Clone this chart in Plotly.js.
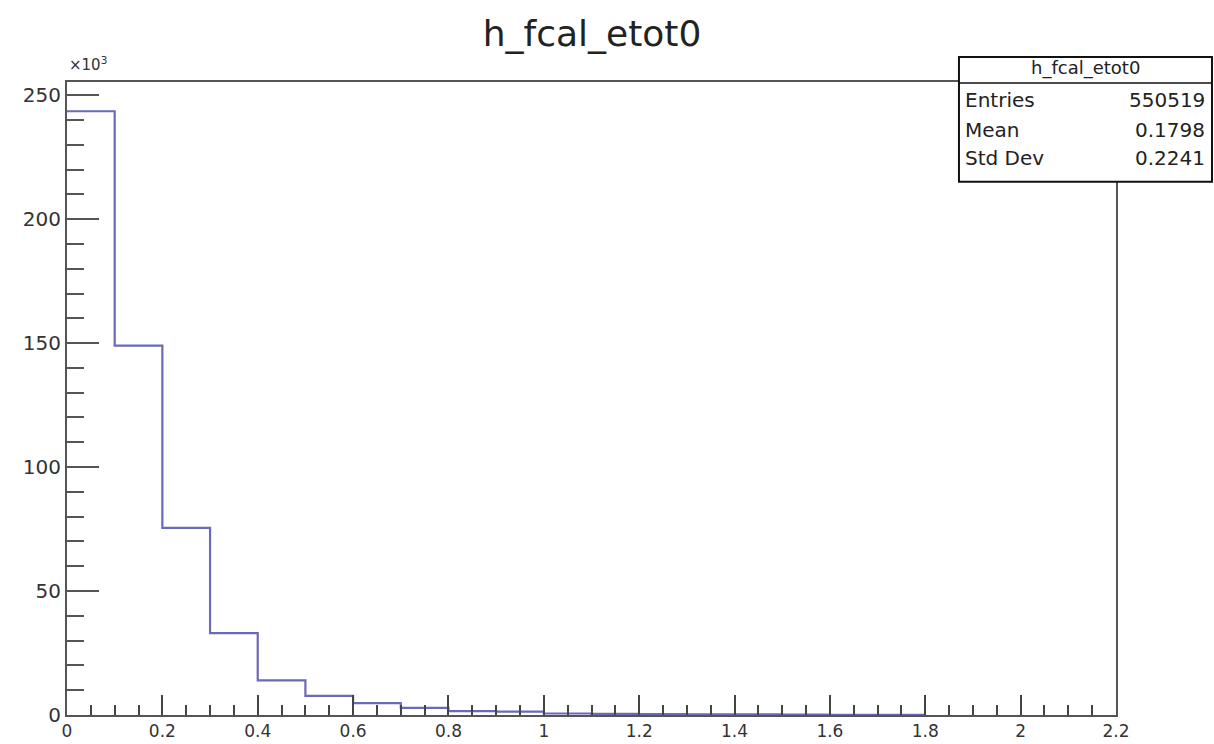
<!DOCTYPE html>
<html>
<head>
<meta charset="utf-8">
<script src="https://cdn.plot.ly/plotly-3.0.1.min.js"></script>
<style>html,body{margin:0;padding:0;background:#fff;}#chart{width:1214px;height:744px;}</style>
</head>
<body>
<div id="chart"></div>
<script>
// Histogram h_fcal_etot0 — bin lower edges and counts (in units of 10^3)
const binLow = [0.0, 0.1, 0.2, 0.3, 0.4, 0.5, 0.6, 0.7, 0.8, 0.9, 1.0, 1.1, 1.2, 1.3, 1.4, 1.5, 1.6, 1.7];
const binWidth = 0.1;
const counts = [243.5, 149, 75.5, 33, 14, 7.7, 4.8, 2.9, 1.6, 1.4, 0.6, 0.45, 0.35, 0.3, 0.22, 0.15, 0.1, 0.08];

const histTitle = "h_fcal_etot0";
const statLabels = ["Entries", "Mean", "Std Dev"];
const statValues = ["550519", "0.1798", "0.2241"];
const xTickVals = [0, 0.2, 0.4, 0.6, 0.8, 1, 1.2, 1.4, 1.6, 1.8, 2, 2.2];
const xTickText = ["0", "0.2", "0.4", "0.6", "0.8", "1", "1.2", "1.4", "1.6", "1.8", "2", "2.2"];
const yTickVals = [0, 50, 100, 150, 200, 250];
const yTickText = ["0", "50", "100", "150", "200", "250"];

// step outline built from the bins
const xs = binLow.concat([binLow[binLow.length - 1] + binWidth]);
const ys = counts.concat([counts[counts.length - 1]]);

const FONT = "DejaVu Sans, Liberation Sans, Arial, sans-serif";

const trace = {
  type: "scatter",
  mode: "lines",
  x: xs,
  y: ys,
  line: {shape: "hv", color: "#6a6ab9", width: 2.2},
  hoverinfo: "skip",
  showlegend: false
};

// stats box geometry (paper coords)
const bx0 = 0.8503, bx1 = 1.0915, by0 = 0.8423, by1 = 1.0394, bdiv = 0.9984;
const rowY = [0.9716, 0.9243, 0.880];

const annotations = [
  {xref: "paper", yref: "paper", x: 0.0, y: 1.01, xanchor: "left", yanchor: "bottom",
   text: "×10<sup>3</sup>", showarrow: false, font: {family: FONT, size: 15, color: "#333"}},
  {xref: "paper", yref: "paper", x: (bx0 + bx1) / 2, y: 1.022, xanchor: "center", yanchor: "middle",
   text: histTitle, showarrow: false, font: {family: FONT, size: 18, color: "#222"}}
];
statLabels.forEach((lab, i) => {
  annotations.push({xref: "paper", yref: "paper", x: bx0 + 0.004, y: rowY[i], xanchor: "left", yanchor: "middle",
    text: lab, showarrow: false, font: {family: FONT, size: 20, color: "#222"}});
  annotations.push({xref: "paper", yref: "paper", x: bx1 - 0.005, y: rowY[i], xanchor: "right", yanchor: "middle",
    text: statValues[i], showarrow: false, font: {family: FONT, size: 20, color: "#222"}});
});

const shapes = [
  {type: "rect", xref: "paper", yref: "paper", x0: bx0, x1: bx1, y0: by0, y1: by1,
   line: {color: "#111", width: 2}, fillcolor: "#fff", layer: "above"},
  {type: "line", xref: "paper", yref: "paper", x0: bx0, x1: bx1, y0: bdiv, y1: bdiv,
   line: {color: "#111", width: 1.5}, layer: "above"}
];

const layout = {
  width: 1214, height: 744,
  margin: {l: 67, r: 98, t: 82, b: 29, pad: 0},
  paper_bgcolor: "#fff", plot_bgcolor: "#fff",
  title: {text: histTitle, x: 592 / 1214, xref: "container", xanchor: "center",
          y: 1 - 33 / 744, yref: "container", yanchor: "middle",
          font: {family: FONT, size: 36, color: "#222"}},
  xaxis: {
    range: [0, 2.2], tickvals: xTickVals, ticktext: xTickText,
    showgrid: false, zeroline: false, showline: true, mirror: true,
    linecolor: "#555", linewidth: 2,
    ticks: "inside", ticklen: 20, tickcolor: "#444", tickwidth: 2,
    minor: {dtick: 0.05, ticks: "inside", ticklen: 10, tickcolor: "#444", tickwidth: 2, showgrid: false},
    tickfont: {family: FONT, size: 17, color: "#333"}
  },
  yaxis: {
    range: [0, 255.3], tickvals: yTickVals, ticktext: yTickText,
    showgrid: false, zeroline: false, showline: true, mirror: true,
    linecolor: "#555", linewidth: 2,
    ticks: "inside", ticklen: 32, tickcolor: "#555", tickwidth: 2,
    minor: {dtick: 10, ticks: "inside", ticklen: 17, tickcolor: "#555", tickwidth: 2, showgrid: false},
    tickfont: {family: FONT, size: 20, color: "#333"}
  },
  shapes: shapes,
  annotations: annotations,
  showlegend: false
};

Plotly.newPlot("chart", [trace], layout, {staticPlot: true, displayModeBar: false});
</script>
</body>
</html>
